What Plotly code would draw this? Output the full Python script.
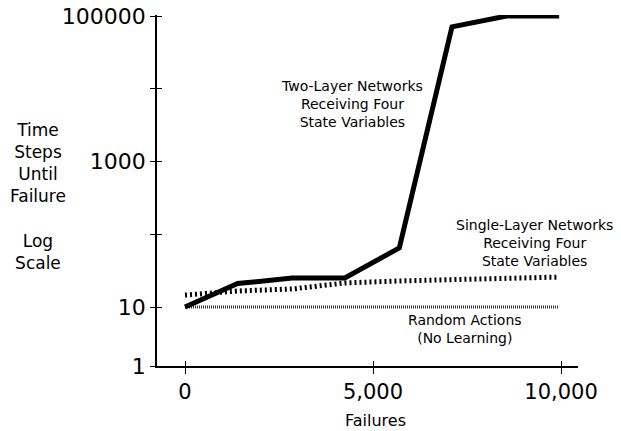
import plotly.graph_objects as go

# ---- data ----
failures = [0, 1400, 2850, 4250, 5700, 7100, 8550, 9950]
two_layer = [10, 21, 25, 25, 65, 71000, 100000, 100000]
single_layer = [14.6, 16.6, 17.7, 21.4, 22.8, 23.5, 24.2, 25.8]
random_x = [0, 9950]
random_y = [10, 10]

x_tick_vals = [0, 5000, 10000]
x_tick_text = ["0", "5,000", "10,000"]
y_tick_vals = [1.545, 10, 100, 1000, 10000, 100000]
y_tick_text = ["1", "10", "", "1000", "", "100000"]

X_RANGE = [-745, 10452]
Y_RANGE = [0.189, 5.014]

FONT = "DejaVu Sans"

fig = go.Figure()

fig.add_trace(go.Scatter(
    x=random_x, y=random_y, mode="lines",
    line=dict(color="#333333", width=3, dash="1px,1px"),
    showlegend=False, hoverinfo="skip"))

fig.add_trace(go.Scatter(
    x=failures, y=single_layer, mode="lines",
    line=dict(color="black", width=5, dash="2px,3px"),
    showlegend=False, hoverinfo="skip"))

fig.add_trace(go.Scatter(
    x=failures, y=two_layer, mode="lines",
    line=dict(color="black", width=5),
    showlegend=False, hoverinfo="skip"))

# empty trace to host the overlay axes (inner halves of the crossing ticks)
fig.add_trace(go.Scatter(x=[], y=[], xaxis="x2", yaxis="y2",
                         showlegend=False, hoverinfo="skip"))

axis_common = dict(showgrid=False, zeroline=False, automargin=False)

fig.update_layout(
    width=621, height=431,
    margin=dict(l=157, r=43, t=15, b=65, autoexpand=False),
    paper_bgcolor="white", plot_bgcolor="white",
    font=dict(family=FONT, color="black"),
    xaxis=dict(range=X_RANGE, tickvals=x_tick_vals, ticktext=x_tick_text,
               ticks="outside", ticklen=6, tickwidth=1.2, tickcolor="black",
               showline=True, linecolor="black", linewidth=1.5,
               ticklabeloverflow="allow",
               tickfont=dict(size=21, family=FONT), **axis_common),
    yaxis=dict(type="log", range=Y_RANGE, tickvals=y_tick_vals,
               ticktext=y_tick_text, ticks="outside", ticklen=5,
               tickwidth=1.2, tickcolor="black", showline=True,
               linecolor="black", linewidth=1.5,
               ticklabeloverflow="allow",
               tickfont=dict(size=22, family=FONT), **axis_common),
    xaxis2=dict(overlaying="x", range=X_RANGE, tickvals=x_tick_vals,
                ticks="inside", ticklen=5, tickwidth=1.2, tickcolor="black",
                showticklabels=False, showline=False, **axis_common),
    yaxis2=dict(overlaying="y", type="log", range=Y_RANGE,
                tickvals=y_tick_vals, ticks="inside", ticklen=5,
                tickwidth=1.2, tickcolor="black", showticklabels=False,
                showline=False, **axis_common),
)

ann_font = dict(family=FONT, size=14, color="black")
fig.add_annotation(text="Two-Layer Networks<br>Receiving Four<br>State Variables",
                   xref="paper", yref="paper", x=0.463, y=0.746,
                   xanchor="center", yanchor="middle", showarrow=False,
                   align="center", font=ann_font)
fig.add_annotation(text="Single-Layer Networks<br>Receiving Four<br>State Variables",
                   xref="paper", yref="paper", x=0.8955, y=0.350,
                   xanchor="center", yanchor="middle", showarrow=False,
                   align="center", font=ann_font)
fig.add_annotation(text="Random Actions<br>(No Learning)",
                   xref="paper", yref="paper", x=0.7316, y=0.104,
                   xanchor="center", yanchor="middle", showarrow=False,
                   align="center", font=ann_font)
fig.add_annotation(text="Time<br>Steps<br>Until<br>Failure<br><br>Log<br>Scale",
                   xref="paper", yref="paper", x=-0.283, y=0.4815,
                   xanchor="center", yanchor="middle", showarrow=False,
                   align="center", font=dict(family=FONT, size=17, color="black"))
fig.add_annotation(text="Failures",
                   xref="paper", yref="paper", x=0.518, y=-0.155,
                   xanchor="center", yanchor="middle", showarrow=False,
                   font=dict(family=FONT, size=16, color="black"))

fig.write_html("out.html", config={"displayModeBar": False},
               post_script="document.body.style.margin='0';")
